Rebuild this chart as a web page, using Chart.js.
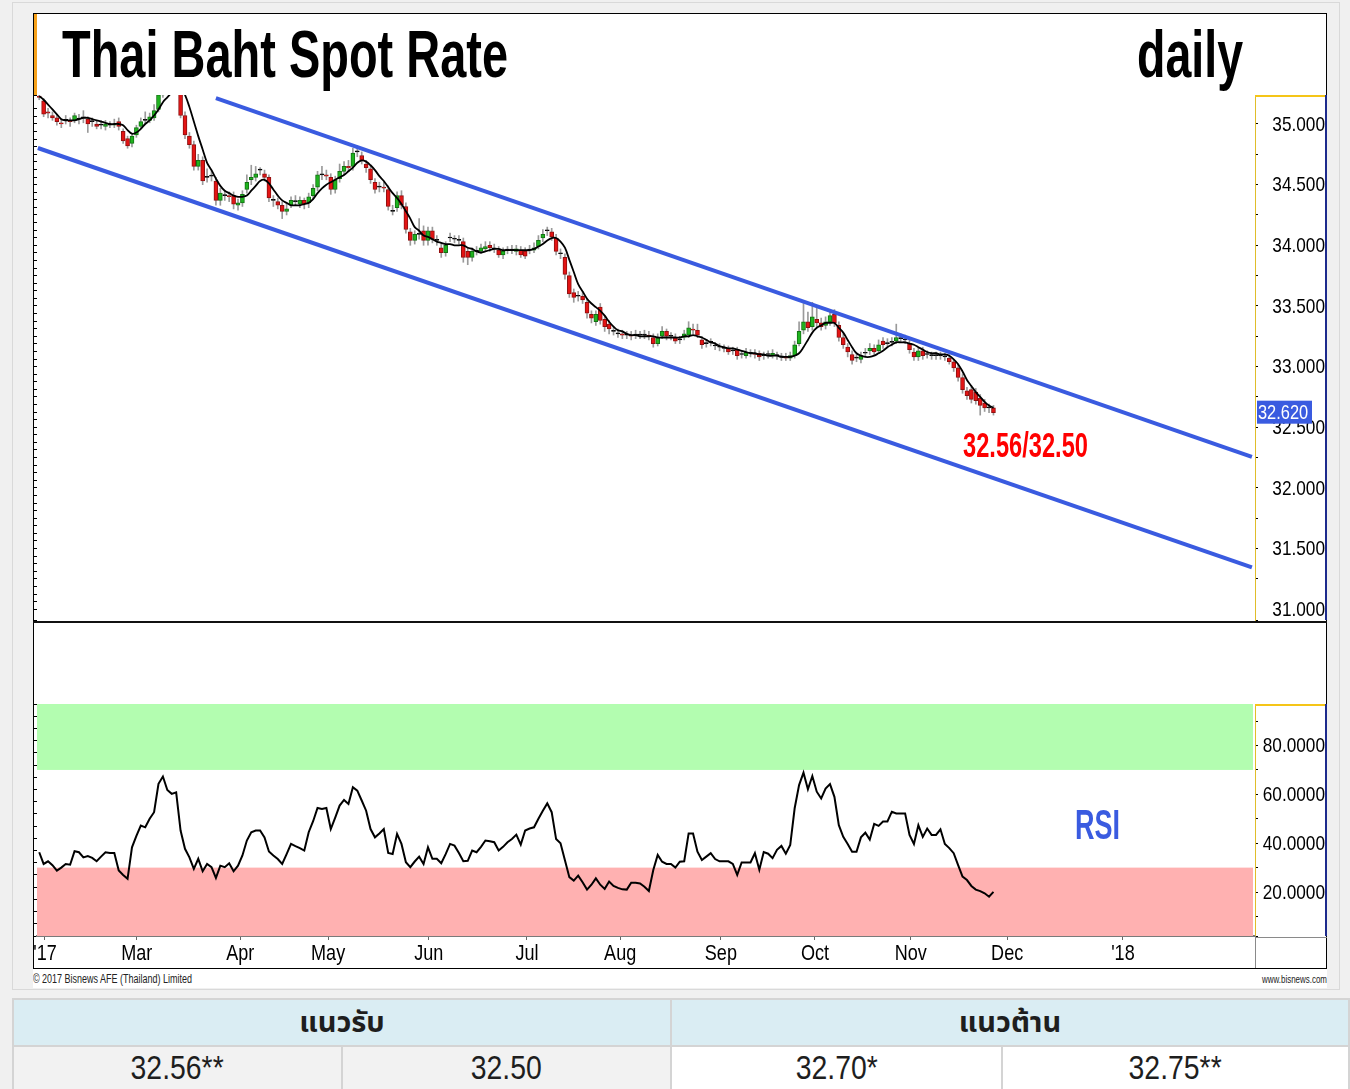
<!DOCTYPE html>
<html>
<head>
<meta charset="utf-8">
<script src="https://cdn.jsdelivr.net/npm/chart.js@4.4.1/dist/chart.umd.min.js"></script>
<style>
  html, body { margin:0; padding:0; width:1350px; height:1089px; overflow:hidden; background:#f0f0f0; position:relative; }
  .abs { position:absolute; white-space:nowrap; line-height:1; transform-origin:0 0; font-family:'Liberation Sans',Arial,sans-serif; }
  #outer { position:absolute; left:12px; top:2px; width:1328px; height:988px; border:1px solid #d9d9d9; box-sizing:border-box; background:#f0f0f0; }
  #sheet { position:absolute; left:33px; top:13px; width:1294px; height:975px; background:#fff; }
  #frame { position:absolute; left:33px; top:13px; width:1294px; height:956px; border:1px solid #000; box-sizing:border-box; }
  #flag { position:absolute; left:34px; top:14px; width:3px; height:81px; background:#f7a21b; }
  #sep { position:absolute; left:33px; top:621px; width:1294px; height:2px; background:#111; }
  canvas { position:absolute; }
  .cell { position:absolute; display:flex; align-items:center; justify-content:center; box-sizing:border-box; color:#1e1e1e; }
  .hdr { background:#daedf3; font-family:'Noto Sans Thai','Noto Sans',sans-serif; font-weight:bold; font-size:29px; }
  .val { font-family:'Liberation Sans',Arial,sans-serif; font-size:33px; }
  .val span { display:inline-block; transform:scaleX(0.86); }
</style>
</head>
<body>
<div id="outer"></div>
<div id="sheet"></div>
<div id="frame"></div>
<div id="flag"></div>
<canvas id="cPrice" width="1294" height="527" style="left:33px;top:95px;width:1294px;height:527px"></canvas>
<canvas id="cRsi" width="1294" height="344" style="left:33px;top:624px;width:1294px;height:344px"></canvas>
<div id="sep"></div>

<div id="tTitle" class="abs" style="left:62px;top:20px;font-size:67px;font-weight:bold;color:#000">Thai Baht Spot Rate</div>
<div id="tDaily" class="abs" style="left:1137px;top:20px;font-size:67px;font-weight:bold;color:#000">daily</div>
<div id="tLevels" class="abs" style="left:963px;top:427px;font-size:35px;font-weight:bold;color:#ff0000">32.56/32.50</div>
<div id="tRsi" class="abs" style="left:1075px;top:804px;font-size:42px;font-weight:bold;color:#3a5be0">RSI</div>
<div id="tCopy" class="abs" style="left:33px;top:973px;font-size:12px;color:#222">© 2017 Bisnews AFE (Thailand) Limited</div>
<div id="tWeb" class="abs" style="left:1262px;top:974px;font-size:11px;color:#222">www.bisnews.com</div>

<div class="cell hdr" style="left:12px;top:998px;width:660px;height:49px;border:2px solid #d4d4d4">แนวรับ</div>
<div class="cell hdr" style="left:670px;top:998px;width:680px;height:49px;border:2px solid #d4d4d4">แนวต้าน</div>
<div class="cell val" style="left:12px;top:1045px;width:331px;height:46px;border:2px solid #d4d4d4;background:#f2f2f2"><span id="v1"></span></div>
<div class="cell val" style="left:341px;top:1045px;width:331px;height:46px;border:2px solid #d4d4d4;background:#f2f2f2"><span id="v2"></span></div>
<div class="cell val" style="left:670px;top:1045px;width:333px;height:46px;border:2px solid #d4d4d4;background:#fff"><span id="v3"></span></div>
<div class="cell val" style="left:1001px;top:1045px;width:349px;height:46px;border:2px solid #d4d4d4;background:#fff"><span id="v4"></span></div>

<script>
const FONT = "'Liberation Sans',Arial,sans-serif";
const SQUEEZE = 0.82; // narrow face look for the axis text

// daily bars, one per trading day (late Jan 2017 .. late Nov 2017)
const opens = [
  35.23,35.19,35.10,35.07,35.05,35.01,35.03,35.03,35.03,35.04,
  35.05,35.04,35.02,35.00,34.99,34.98,34.99,34.99,35.02,34.94,
  34.88,34.84,34.91,34.98,35.03,35.03,35.05,35.12,35.24,35.32,
  35.38,35.42,35.32,35.07,34.90,34.83,34.65,34.70,34.56,34.57,
  34.53,34.37,34.41,34.41,34.41,34.33,34.35,34.46,34.54,34.56,
  34.62,34.59,34.56,34.37,34.36,34.33,34.28,34.33,34.36,34.34,
  34.37,34.35,34.41,34.48,34.58,34.58,34.56,34.46,34.55,34.61,
  34.65,34.65,34.77,34.74,34.67,34.63,34.52,34.48,34.48,34.46,
  34.28,34.31,34.41,34.32,34.11,34.04,34.09,34.12,34.04,34.12,
  34.04,33.98,33.94,34.06,34.05,34.04,34.03,33.95,33.90,33.95,
  33.95,33.97,34.00,33.97,33.96,33.92,33.96,33.96,33.95,33.96,
  33.95,33.96,33.96,33.99,34.06,34.12,34.11,34.06,33.93,33.90,
  33.75,33.61,33.58,33.58,33.53,33.43,33.37,33.49,33.39,33.35,
  33.29,33.27,33.27,33.26,33.26,33.26,33.26,33.26,33.26,33.24,
  33.19,33.25,33.29,33.25,33.24,33.22,33.24,33.26,33.31,33.30,
  33.22,33.19,33.20,33.17,33.16,33.15,33.15,33.13,33.14,33.10,
  33.09,33.11,33.11,33.11,33.09,33.10,33.09,33.09,33.08,33.08,
  33.07,33.09,33.19,33.30,33.37,33.33,33.39,33.36,33.34,33.37,
  33.43,33.34,33.24,33.16,33.10,33.07,33.06,33.11,33.13,33.15,
  33.13,33.21,33.19,33.20,33.21,33.23,33.22,33.19,33.12,33.08,
  33.13,33.10,33.09,33.09,33.09,33.08,33.07,33.04,32.99,32.91,
  32.80,32.81,32.79,32.74,32.70,32.66,32.66
];
const closes = [
  35.22,35.08,35.09,35.05,35.02,35.00,35.03,35.02,35.07,35.04,
  35.05,35.00,35.02,34.98,34.99,35.00,34.99,35.00,34.98,34.86,
  34.82,34.90,34.97,35.02,35.03,35.06,35.11,35.24,35.32,35.38,
  35.42,35.40,35.07,34.91,34.83,34.65,34.70,34.53,34.56,34.57,
  34.37,34.43,34.41,34.40,34.34,34.35,34.42,34.52,34.56,34.59,
  34.62,34.56,34.39,34.37,34.33,34.28,34.30,34.37,34.36,34.37,
  34.34,34.40,34.47,34.58,34.58,34.57,34.46,34.54,34.61,34.65,
  34.64,34.76,34.77,34.70,34.64,34.54,34.46,34.48,34.47,34.32,
  34.28,34.41,34.33,34.13,34.04,34.09,34.09,34.04,34.12,34.05,
  34.04,33.94,34.00,34.06,34.05,34.04,33.90,33.90,33.95,33.95,
  33.98,33.99,33.98,33.97,33.92,33.95,33.96,33.96,33.97,33.92,
  33.91,33.96,33.98,34.04,34.09,34.12,34.07,33.95,33.93,33.76,
  33.60,33.57,33.58,33.55,33.44,33.40,33.43,33.38,33.33,33.31,
  33.29,33.27,33.26,33.26,33.25,33.26,33.26,33.26,33.25,33.19,
  33.24,33.29,33.25,33.25,33.21,33.22,33.27,33.32,33.30,33.26,
  33.18,33.19,33.20,33.17,33.16,33.15,33.12,33.13,33.09,33.10,
  33.12,33.11,33.10,33.08,33.09,33.10,33.11,33.09,33.08,33.07,
  33.09,33.18,33.29,33.37,33.32,33.41,33.36,33.33,33.37,33.42,
  33.36,33.24,33.18,33.12,33.05,33.07,33.09,33.11,33.15,33.12,
  33.18,33.18,33.19,33.20,33.24,33.23,33.22,33.14,33.08,33.13,
  33.09,33.10,33.09,33.09,33.09,33.08,33.04,32.99,32.91,32.81,
  32.76,32.73,32.72,32.68,32.66,32.66,32.62
];
const highs = [
  35.26,35.21,35.13,35.10,35.07,35.04,35.07,35.05,35.09,35.08,
  35.11,35.06,35.05,35.03,35.03,35.03,35.02,35.04,35.05,34.96,
  34.90,34.92,34.99,35.05,35.10,35.09,35.16,35.27,35.35,35.41,
  35.46,35.45,35.36,35.10,34.93,34.86,34.75,34.73,34.63,34.62,
  34.56,34.47,34.45,34.44,34.44,34.38,34.45,34.58,34.66,34.65,
  34.64,34.62,34.58,34.41,34.39,34.36,34.34,34.40,34.41,34.40,
  34.39,34.43,34.50,34.61,34.65,34.62,34.59,34.57,34.67,34.69,
  34.70,34.80,34.82,34.77,34.70,34.66,34.55,34.52,34.52,34.49,
  34.33,34.44,34.45,34.35,34.14,34.12,34.22,34.16,34.15,34.15,
  34.08,34.02,34.03,34.10,34.08,34.08,34.06,33.98,33.98,33.99,
  34.01,34.03,34.03,34.01,33.99,33.98,33.99,34.00,34.00,33.99,
  33.98,34.00,34.02,34.08,34.13,34.15,34.14,34.09,33.97,33.93,
  33.78,33.64,33.62,33.62,33.56,33.46,33.46,33.52,33.42,33.38,
  33.33,33.31,33.30,33.29,33.29,33.30,33.29,33.30,33.29,33.27,
  33.27,33.33,33.31,33.28,33.27,33.25,33.30,33.37,33.35,33.35,
  33.25,33.22,33.23,33.20,33.19,33.18,33.17,33.16,33.16,33.13,
  33.15,33.14,33.14,33.13,33.12,33.13,33.14,33.12,33.11,33.11,
  33.12,33.21,33.37,33.52,33.45,33.53,33.48,33.40,33.41,33.47,
  33.47,33.37,33.27,33.19,33.13,33.10,33.12,33.15,33.19,33.18,
  33.22,33.24,33.23,33.24,33.35,33.27,33.26,33.22,33.15,33.16,
  33.16,33.13,33.12,33.12,33.12,33.11,33.10,33.06,33.02,32.94,
  32.83,32.84,32.82,32.77,32.73,32.69,32.68
];
const lows = [
  35.20,35.06,35.05,35.03,34.99,34.97,35.00,34.98,35.01,35.00,
  35.01,34.93,34.98,34.96,34.96,34.95,34.97,34.97,34.95,34.84,
  34.80,34.81,34.89,34.96,35.00,35.01,35.03,35.10,35.22,35.29,
  35.35,35.36,35.05,34.88,34.80,34.62,34.62,34.50,34.52,34.53,
  34.33,34.33,34.37,34.36,34.30,34.29,34.32,34.43,34.50,34.53,
  34.58,34.53,34.36,34.32,34.30,34.22,34.25,34.31,34.33,34.31,
  34.30,34.31,34.38,34.45,34.54,34.54,34.42,34.43,34.52,34.58,
  34.61,34.62,34.73,34.67,34.60,34.51,34.43,34.44,34.44,34.29,
  34.25,34.28,34.30,34.10,34.00,34.01,34.05,34.00,34.00,34.02,
  34.00,33.90,33.91,34.03,34.02,34.01,33.86,33.84,33.87,33.92,
  33.93,33.95,33.95,33.94,33.90,33.89,33.93,33.93,33.92,33.90,
  33.89,33.93,33.94,33.97,34.03,34.08,34.04,33.92,33.89,33.72,
  33.57,33.53,33.54,33.52,33.40,33.36,33.34,33.35,33.29,33.27,
  33.26,33.24,33.23,33.23,33.22,33.23,33.23,33.23,33.22,33.16,
  33.17,33.23,33.22,33.22,33.19,33.19,33.22,33.24,33.27,33.24,
  33.15,33.16,33.17,33.14,33.13,33.12,33.10,33.10,33.06,33.07,
  33.07,33.08,33.07,33.05,33.06,33.07,33.07,33.06,33.05,33.05,
  33.05,33.07,33.17,33.27,33.29,33.30,33.33,33.30,33.31,33.34,
  33.33,33.21,33.15,33.08,33.02,33.04,33.03,33.08,33.10,33.10,
  33.11,33.15,33.16,33.17,33.19,33.20,33.19,33.11,33.05,33.05,
  33.06,33.07,33.06,33.06,33.06,33.05,33.02,32.96,32.88,32.78,
  32.73,32.70,32.69,32.60,32.63,32.62,32.60
];
// moving average line drawn over the candles
const maLine = [
  35.23,35.20,35.16,35.12,35.08,35.04,35.03,35.03,35.03,35.04,
  35.05,35.05,35.04,35.03,35.02,35.01,35.00,35.00,35.00,34.99,
  34.95,34.92,34.93,34.96,35.00,35.03,35.07,35.12,35.18,35.22,
  35.26,35.30,35.30,35.24,35.14,35.02,34.90,34.79,34.68,34.62,
  34.55,34.49,34.45,34.43,34.41,34.40,34.40,34.41,34.45,34.49,
  34.53,34.54,34.51,34.46,34.41,34.37,34.35,34.33,34.33,34.33,
  34.34,34.35,34.38,34.43,34.47,34.50,34.52,34.54,34.56,34.58,
  34.61,34.64,34.68,34.70,34.69,34.66,34.62,34.57,34.53,34.48,
  34.43,34.39,34.34,34.28,34.22,34.15,34.12,34.08,34.07,34.05,
  34.03,34.02,34.01,34.01,34.00,34.00,34.00,33.98,33.97,33.95,
  33.94,33.95,33.96,33.97,33.97,33.96,33.96,33.96,33.96,33.96,
  33.96,33.96,33.97,33.99,34.01,34.04,34.06,34.06,34.03,33.98,
  33.88,33.78,33.68,33.62,33.56,33.52,33.49,33.46,33.42,33.37,
  33.33,33.30,33.29,33.27,33.26,33.26,33.25,33.25,33.25,33.25,
  33.24,33.24,33.24,33.24,33.24,33.24,33.25,33.25,33.26,33.25,
  33.24,33.22,33.20,33.19,33.17,33.16,33.15,33.15,33.14,33.13,
  33.12,33.11,33.11,33.10,33.10,33.09,33.09,33.09,33.08,33.08,
  33.08,33.09,33.11,33.16,33.22,33.28,33.32,33.34,33.36,33.36,
  33.36,33.32,33.28,33.22,33.16,33.11,33.09,33.08,33.08,33.09,
  33.11,33.13,33.16,33.18,33.20,33.20,33.20,33.19,33.18,33.16,
  33.14,33.12,33.11,33.11,33.10,33.10,33.09,33.06,33.02,32.96,
  32.89,32.84,32.79,32.75,32.71,32.68,32.66
];
const rsi = [
  36.3,31.5,32.6,31.0,28.8,30.0,31.5,31.2,36.7,36.3,
  34.2,34.7,34.0,32.6,34.5,36.3,36.0,36.0,28.8,27.0,
  25.4,38.3,43.0,47.2,46.5,50.0,52.7,64.3,67.3,61.8,
  60.2,60.8,45.2,37.7,34.2,29.5,33.6,28.5,31.5,30.2,
  25.8,30.8,30.2,31.8,28.5,30.8,35.0,41.1,44.5,45.2,
  45.2,42.4,36.6,35.0,33.5,31.5,35.5,39.7,38.8,38.0,
  37.0,44.5,49.0,54.4,54.0,54.4,45.8,50.5,55.4,57.7,
  56.1,62.9,61.5,57.5,53.3,45.8,42.4,44.0,45.8,36.0,
  35.6,43.8,39.7,32.2,30.2,32.5,34.5,31.5,38.3,33.6,
  33.6,31.8,35.5,39.7,39.0,36.0,32.6,32.8,37.0,36.3,
  38.5,41.1,40.8,40.4,37.0,38.5,40.4,41.7,43.5,39.4,
  45.2,46.0,46.5,50.0,53.3,56.3,52.7,41.7,40.0,33.0,
  26.1,24.7,26.7,24.0,21.0,23.0,25.6,23.0,21.3,24.3,
  22.5,21.7,21.1,21.0,23.8,23.8,23.5,22.2,20.4,29.0,
  35.2,32.4,31.5,31.5,30.0,32.4,32.6,44.0,44.0,36.5,
  33.1,34.5,35.9,33.5,32.6,32.6,32.6,31.5,27.0,32.1,
  32.1,32.1,35.9,29.1,36.4,35.7,33.9,37.3,38.9,35.7,
  39.3,54.3,63.8,68.9,62.1,67.5,61.1,58.3,62.4,64.2,
  59.0,47.4,42.6,39.7,36.5,36.5,42.4,44.3,41.5,47.9,
  47.1,48.9,48.9,52.9,52.2,52.2,52.2,43.4,39.7,47.4,
  42.6,46.0,43.4,43.4,45.7,39.7,38.0,35.9,31.0,26.3,
  24.9,22.5,21.0,20.4,19.5,18.1,20.1
];

// trend channel (bar index, price) end points
const upperX = [40.0, 274.5], upperY = [35.214, 32.255];
const lowerX = [-0.3, 274.5], lowerY = [34.802, 31.345];

// month marks on the time axis (bar index)
const monthLabels = ["'17", 'Mar', 'Apr', 'May', 'Jun', 'Jul', 'Aug', 'Sep', 'Oct', 'Nov', 'Dec', "'18"];
const monthTicks  = [1.3, 22.1, 45.5, 65.4, 88.2, 110.4, 131.5, 154.3, 175.6, 197.3, 219.1, 245.3];

// labelled values on the two right axes
const priceLabels = [31, 31.5, 32, 32.5, 33, 33.5, 34, 34.5, 35];
const rsiLabels = [20, 40, 60, 80];

const priceMin = 30.911, priceMax = 35.239;
const rsiMin = 2, rsiMax = 97, rsiHigh = 70, rsiLow = 30;
const xMin = -0.5, xMax = 275.2;

const supports = ['32.56**', '32.50'];
const resists = ['32.70*', '32.75**'];

const UP = '#1fb41f', DOWN = '#e31414';
const BLUE = '#3a5be0';

const lastPrice = closes[closes.length - 1];
const fixAxis = w => s => { s.width = w; s.paddingTop = 0; s.paddingBottom = 0; };

// axis text, squeezed sideways like a narrow face
function narrowText(ctx, text, x, y, size, align, color) {
  ctx.save();
  ctx.translate(x, y);
  ctx.scale(SQUEEZE, 1);
  ctx.font = `${size}px ${FONT}`;
  ctx.fillStyle = color || '#000';
  ctx.textAlign = align;
  ctx.textBaseline = 'middle';
  ctx.fillText(text, 0, 0);
  ctx.restore();
}

const priceFrame = {
  id: 'priceFrame',
  afterDraw(chart) {
    const { ctx, chartArea: a, scales: { y } } = chart;
    ctx.save();
    ctx.fillStyle = '#f5c518';
    ctx.fillRect(a.right, a.top, chart.width - a.right, 2);
    ctx.fillStyle = '#1c2a8c';
    ctx.fillRect(chart.width - 2, a.top, 2, a.bottom - a.top);
    ctx.restore();
    priceLabels.forEach(v => narrowText(ctx, v.toFixed(3), chart.width - 2, y.getPixelForValue(v) + 1, 21, 'right'));
    const yy = y.getPixelForValue(lastPrice);
    ctx.save();
    ctx.fillStyle = BLUE;
    ctx.fillRect(a.right + 2, yy - 12, 55, 23);
    ctx.restore();
    narrowText(ctx, lastPrice.toFixed(3), a.right + 3, yy + 1, 20, 'left', '#fff');
  }
};

new Chart(document.getElementById('cPrice'), {
  type: 'bar',
  data: {
    datasets: [
      { type: 'line', data: upperX.map((x, k) => ({ x, y: upperY[k] })), borderColor: BLUE, borderWidth: 4, pointRadius: 0, order: -1 },
      { type: 'line', data: lowerX.map((x, k) => ({ x, y: lowerY[k] })), borderColor: BLUE, borderWidth: 4, pointRadius: 0, order: -1 },
      { type: 'line', data: maLine.map((v, i) => ({ x: i, y: v })), borderColor: '#000', borderWidth: 1.8, pointRadius: 0, tension: 0.35, order: 0 },
      {
        type: 'bar', data: opens.map((o, i) => ({ x: i, y: [o, closes[i]] })),
        backgroundColor: closes.map((c, i) => c > opens[i] ? UP : c < opens[i] ? DOWN : '#000'),
        borderColor: closes.map((c, i) => c > opens[i] ? '#137013' : c < opens[i] ? '#8e1010' : '#000'),
        borderWidth: 1, borderSkipped: false, barThickness: 4, minBarLength: 1, grouped: false, order: 1
      },
      {
        type: 'bar', data: highs.map((h, i) => ({ x: i, y: [lows[i], h] })),
        backgroundColor: '#9a9a9a', barThickness: 1, grouped: false, order: 2
      }
    ]
  },
  options: {
    responsive: false, animation: false, events: [],
    layout: { padding: { top: 0, bottom: 2, left: 0, right: 0 } },
    plugins: { legend: { display: false }, tooltip: { enabled: false } },
    scales: {
      x: { type: 'linear', min: xMin, max: xMax, offset: false, display: false },
      y: {
        position: 'right', min: priceMin, max: priceMax,
        grid: { drawOnChartArea: false, drawTicks: true, tickLength: 3, tickColor: '#000' },
        border: { display: true, color: '#e0bd2a', dash: [2, 2] },
        ticks: { display: false, stepSize: 0.25, autoSkip: false },
        afterFit: fixAxis(72)
      },
      yl: {
        position: 'left', min: priceMin, max: priceMax,
        grid: { drawOnChartArea: false, drawTicks: true, tickLength: 3, tickColor: '#000' },
        border: { display: false },
        ticks: { display: false, stepSize: 0.0625, autoSkip: false },
        afterFit: fixAxis(4)
      }
    }
  },
  plugins: [priceFrame]
});

const rsiFrame = {
  id: 'rsiFrame',
  beforeDatasetsDraw(chart) {
    const { ctx, chartArea: a, scales: { y } } = chart;
    ctx.save();
    const g1 = y.getPixelForValue(rsiMax), g2 = y.getPixelForValue(rsiHigh);
    const p1 = y.getPixelForValue(rsiLow), p2 = y.getPixelForValue(rsiMin);
    ctx.fillStyle = '#b3fdb0';
    ctx.fillRect(a.left, g1, a.right - a.left - 2, g2 - g1);
    ctx.fillStyle = '#ffb1b1';
    ctx.fillRect(a.left, p1, a.right - a.left - 2, p2 - p1);
    ctx.restore();
  },
  afterDraw(chart) {
    const { ctx, chartArea: a, scales: { x, y } } = chart;
    ctx.save();
    ctx.fillStyle = '#f5c518';
    ctx.fillRect(a.right, a.top, chart.width - a.right, 2);
    ctx.fillStyle = '#1c2a8c';
    ctx.fillRect(chart.width - 2, a.top, 2, a.bottom - a.top);
    ctx.fillStyle = '#8a8a8a';
    ctx.fillRect(a.right, a.bottom, 1, chart.height - a.bottom);
    ctx.fillRect(a.right, a.bottom + 1, chart.width - a.right, 1);
    ctx.restore();
    rsiLabels.forEach(v => narrowText(ctx, v.toFixed(4), chart.width - 2, y.getPixelForValue(v) + 1, 21, 'right'));
    monthLabels.forEach((t, k) => narrowText(ctx, t, x.getPixelForValue(monthTicks[k]), a.bottom + 18, 22, 'center'));
  }
};

new Chart(document.getElementById('cRsi'), {
  type: 'line',
  data: {
    datasets: [
      { data: rsi.map((v, i) => ({ x: i, y: v })), borderColor: '#000', borderWidth: 2, pointRadius: 0, tension: 0 }
    ]
  },
  options: {
    responsive: false, animation: false, events: [],
    layout: { padding: { top: 80, bottom: 0, left: 0, right: 0 } },
    plugins: { legend: { display: false }, tooltip: { enabled: false } },
    scales: {
      x: {
        type: 'linear', min: xMin, max: xMax, offset: false,
        grid: { drawOnChartArea: false, drawTicks: true, tickLength: 4, tickColor: '#666' },
        border: { display: true, color: '#7a7a7a', width: 2 },
        ticks: { display: false, autoSkip: false },
        afterBuildTicks: s => { s.ticks = monthTicks.map(v => ({ value: v })); },
        afterFit: s => { s.height = 32; s.paddingLeft = 0; s.paddingRight = 0; }
      },
      y: {
        position: 'right', min: rsiMin, max: rsiMax,
        grid: { drawOnChartArea: false, drawTicks: true, tickLength: 3, tickColor: '#000' },
        border: { display: true, color: '#e0bd2a', dash: [2, 2] },
        ticks: { display: false, stepSize: 10, autoSkip: false },
        afterFit: fixAxis(72)
      },
      yl: {
        position: 'left', min: rsiMin, max: rsiMax,
        grid: { drawOnChartArea: false, drawTicks: true, tickLength: 3, tickColor: '#000' },
        border: { display: false },
        ticks: { display: false, stepSize: 5, autoSkip: false },
        afterFit: fixAxis(4)
      }
    }
  },
  plugins: [rsiFrame]
});

// table values
['v1', 'v2'].forEach((id, k) => { document.getElementById(id).textContent = supports[k]; });
['v3', 'v4'].forEach((id, k) => { document.getElementById(id).textContent = resists[k]; });

// squeeze the overlay captions to the widths they take in the picture
const fit = (id, w) => {
  const el = document.getElementById(id);
  const r = el.getBoundingClientRect().width;
  el.style.transform = `scaleX(${w / r})`;
};
fit('tTitle', 446);
fit('tDaily', 106);
fit('tLevels', 125);
fit('tRsi', 45);
fit('tCopy', 159);
fit('tWeb', 65);
</script>
</body>
</html>
